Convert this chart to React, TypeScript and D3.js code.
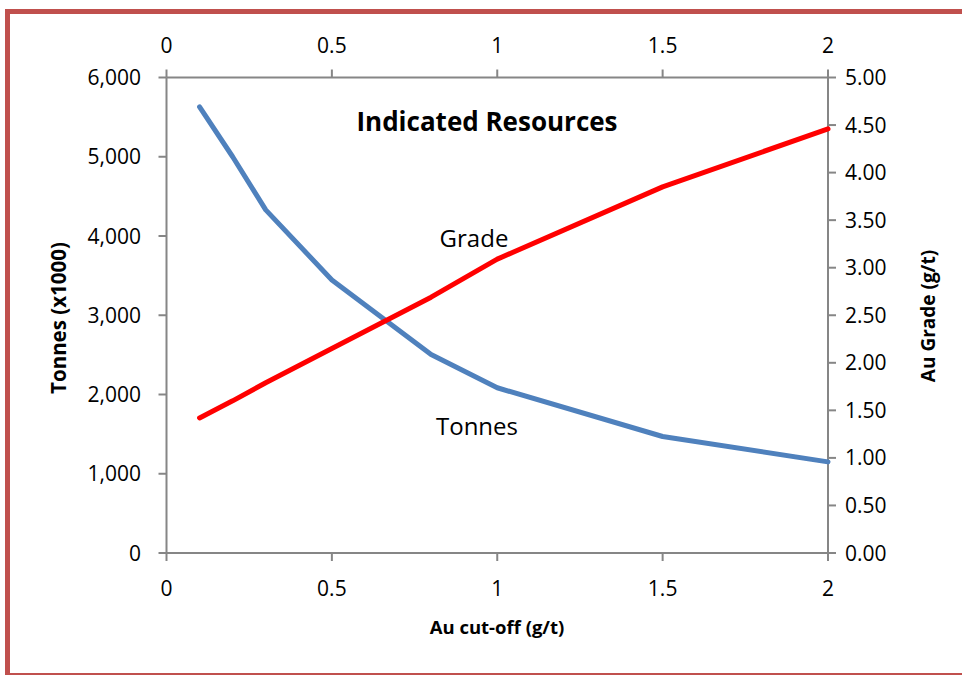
import React from "react";
import * as d3 from "d3";

const cutoffs = [0.1, 0.2, 0.3, 0.5, 0.8, 1.0, 1.5, 2.0];
const tonnes = [5630, 5000, 4330, 3445, 2505, 2085, 1470, 1150];
const grade = [1.42, 1.6, 1.79, 2.15, 2.69, 3.09, 3.85, 4.46];
const xTicks = [0, 0.5, 1, 1.5, 2];
const leftTicks = [0, 1000, 2000, 3000, 4000, 5000, 6000];
const rightTicks = [0, 0.5, 1, 1.5, 2, 2.5, 3, 3.5, 4, 4.5, 5];

const W = 962, H = 675;
const L = 166.5, R = 828, T = 77.5, B = 553;
const FONT = "'Open Sans', 'Liberation Sans', sans-serif";
const AX = "#868686";

export default function App() {
  const x = d3.scaleLinear().domain([0, 2]).range([L, R]);
  const yL = d3.scaleLinear().domain([0, 6000]).range([B, T]);
  const yR = d3.scaleLinear().domain([0, 5]).range([B, T]);
  const lineT = d3.line<number>().x((_, i) => x(cutoffs[i])).y((d) => yL(d));
  const lineG = d3.line<number>().x((_, i) => x(cutoffs[i])).y((d) => yR(d));
  const fmtL = d3.format(",");
  const fmtR = d3.format(".2f");
  const fmtX = (v: number) => String(v);
  return (
    <svg width={W} height={H} style={{ position: "absolute", left: 0, top: 0 }}>
      <rect x={0} y={0} width={W} height={H} fill="#fff" />
      <rect x={7.5} y={11.5} width={W + 20} height={664} fill="none" stroke="#c0504d" strokeWidth={5} />
      <g stroke={AX} strokeWidth={2} fill="none">
        <line x1={L} x2={R} y1={T} y2={T} />
        <line x1={L} x2={R} y1={B} y2={B} />
        <line x1={L} x2={L} y1={T} y2={B} />
        <line x1={R} x2={R} y1={T} y2={B} />
        {leftTicks.map((t) => (
          <line key={"l" + t} x1={L - 8} x2={L} y1={yL(t)} y2={yL(t)} />
        ))}
        {rightTicks.map((t) => (
          <line key={"r" + t} x1={R} x2={R + 8} y1={yR(t)} y2={yR(t)} />
        ))}
        {xTicks.map((t) => (
          <g key={"x" + t}>
            <line x1={x(t)} x2={x(t)} y1={B} y2={B + 8} />
            <line x1={x(t)} x2={x(t)} y1={T - 8} y2={T} />
          </g>
        ))}
      </g>
      <g fontFamily={FONT} fontSize={21} fill="#000">
        {leftTicks.map((t) => (
          <text key={"lt" + t} x={141} y={yL(t)} dy="0.36em" textAnchor="end">{fmtL(t)}</text>
        ))}
        {rightTicks.map((t) => (
          <text key={"rt" + t} x={845} y={yR(t)} dy="0.36em" textAnchor="start">{fmtR(t)}</text>
        ))}
        {xTicks.map((t) => (
          <text key={"bt" + t} x={x(t)} y={596} textAnchor="middle">{fmtX(t)}</text>
        ))}
        {xTicks.map((t) => (
          <text key={"tt" + t} x={x(t)} y={53} textAnchor="middle">{fmtX(t)}</text>
        ))}
        <text x={474} y={247} fontSize={24} textAnchor="middle">Grade</text>
        <text x={477} y={435} fontSize={24} textAnchor="middle">Tonnes</text>
      </g>
      <g fontFamily={FONT} fontWeight="bold" fill="#000">
        <text x={487} y={131} fontSize={26} textAnchor="middle">Indicated Resources</text>
        <text x={497} y={634} fontSize={18.5} textAnchor="middle">Au cut-off (g/t)</text>
        <text transform={`translate(66,318) rotate(-90)`} fontSize={20.5} textAnchor="middle">Tonnes (x1000)</text>
        <text transform={`translate(935,316) rotate(-90)`} fontSize={19} textAnchor="middle">Au Grade (g/t)</text>
      </g>
      <path d={lineT(tonnes) || ""} fill="none" stroke="#4f81bd" strokeWidth={5} strokeLinejoin="round" strokeLinecap="round" />
      <path d={lineG(grade) || ""} fill="none" stroke="#ff0000" strokeWidth={5} strokeLinejoin="round" strokeLinecap="round" />
    </svg>
  );
}
